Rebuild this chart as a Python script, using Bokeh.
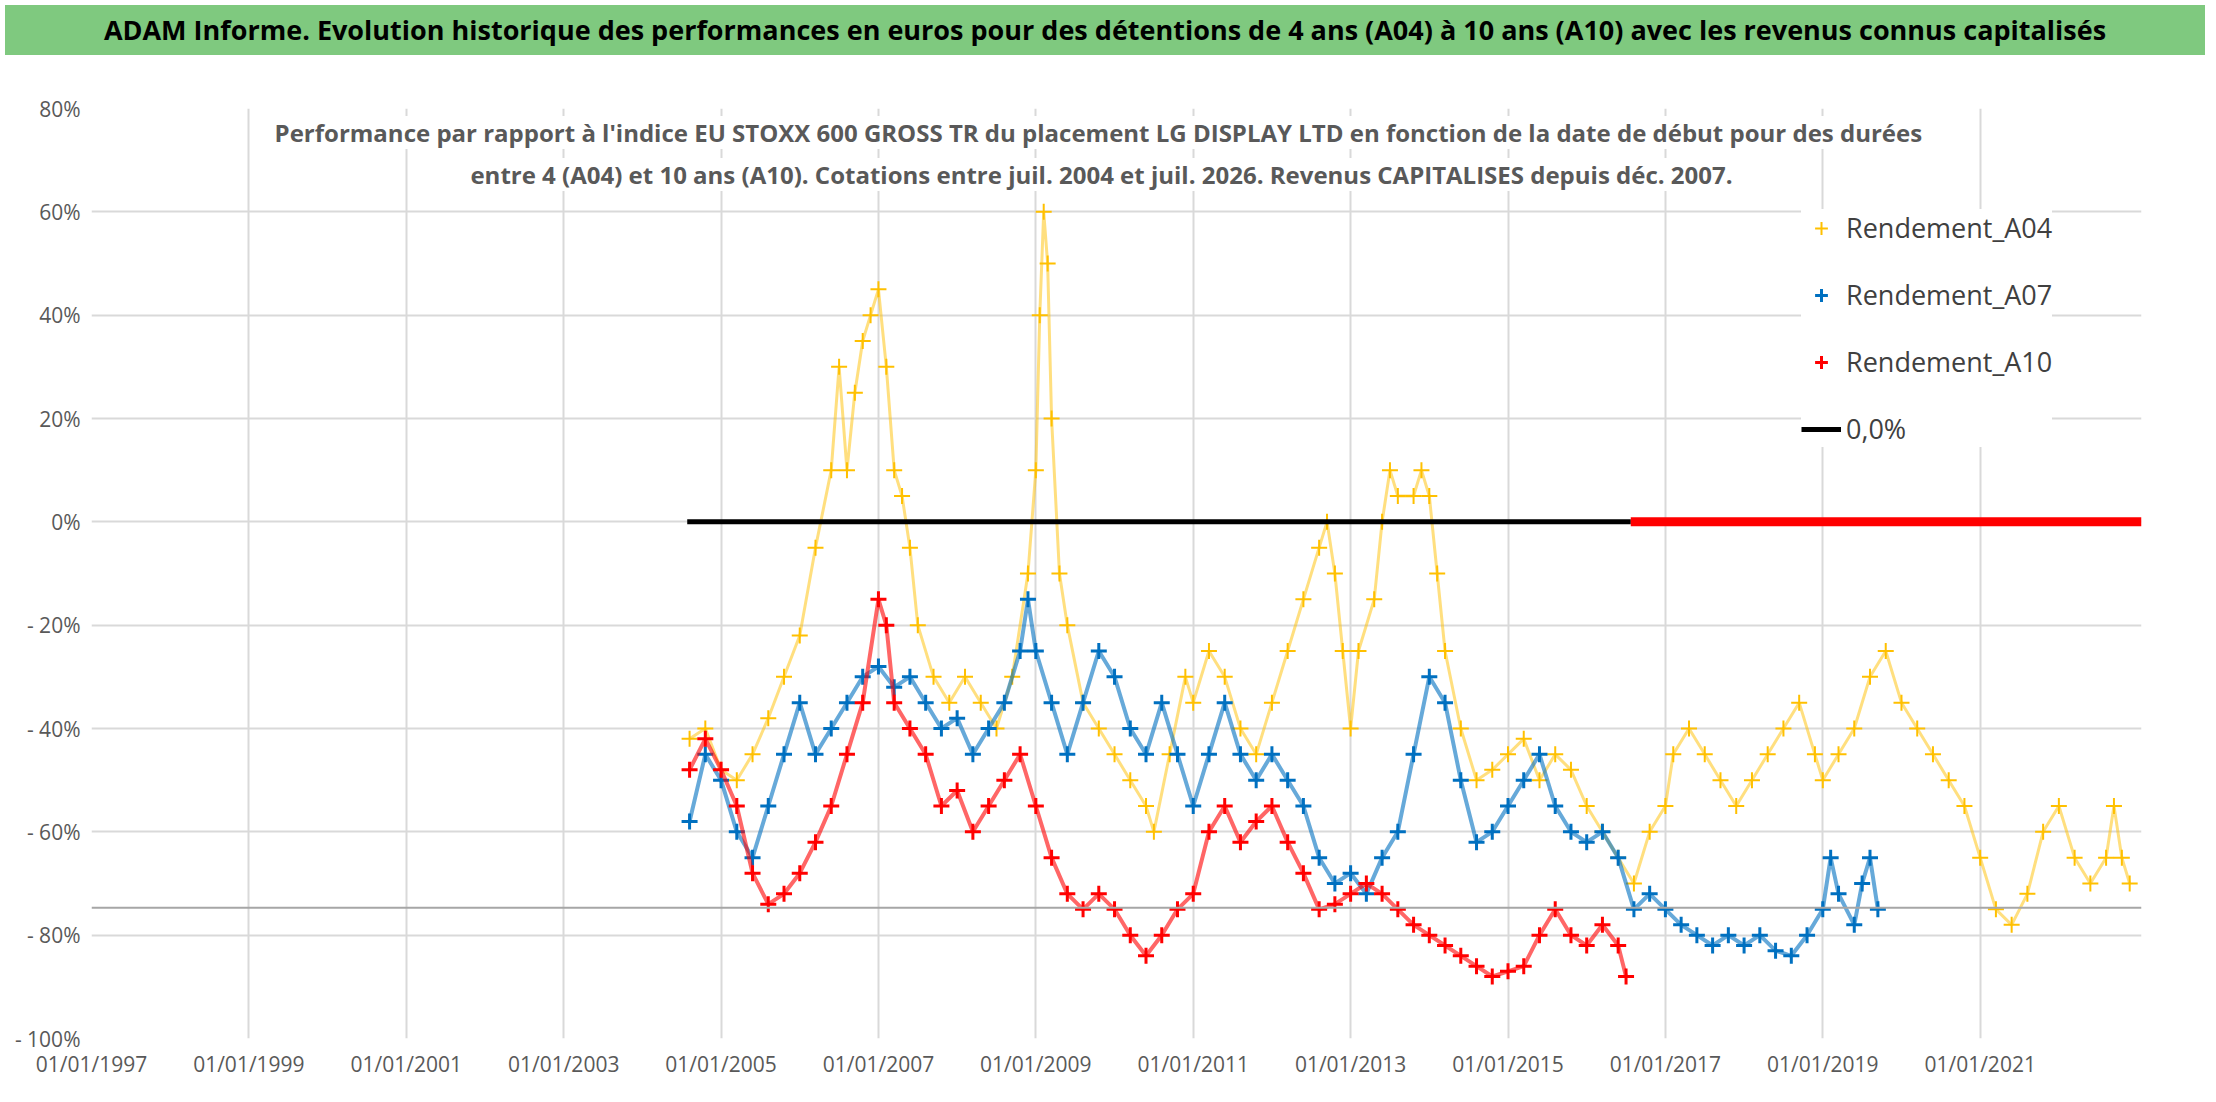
from bokeh.plotting import figure
from bokeh.models import Div, Label, Legend, LegendItem, Span, FixedTicker, Range1d
from bokeh.layouts import column
from bokeh.embed import file_html
from bokeh.resources import INLINE

a04_x = [2004.6,2004.8,2005.0,2005.2,2005.4,2005.6,2005.8,2006.0,2006.2,2006.4,2006.5,2006.6,2006.7,2006.8,2006.9,2007.0,2007.1,2007.2,2007.3,2007.4,2007.5,2007.7,2007.9,2008.1,2008.3,2008.5,2008.7,2008.9,2009.0,2009.05,2009.1,2009.15,2009.2,2009.3,2009.4,2009.6,2009.8,2010.0,2010.2,2010.4,2010.5,2010.7,2010.9,2011.0,2011.2,2011.4,2011.6,2011.8,2012.0,2012.2,2012.4,2012.6,2012.7,2012.8,2012.9,2013.0,2013.1,2013.3,2013.4,2013.5,2013.6,2013.8,2013.9,2014.0,2014.1,2014.2,2014.4,2014.6,2014.8,2015.0,2015.2,2015.4,2015.6,2015.8,2016.0,2016.2,2016.4,2016.6,2016.8,2017.0,2017.1,2017.3,2017.5,2017.7,2017.9,2018.1,2018.3,2018.5,2018.7,2018.9,2019.0,2019.2,2019.4,2019.6,2019.8,2020.0,2020.2,2020.4,2020.6,2020.8,2021.0,2021.2,2021.4,2021.6,2021.8,2022.0,2022.2,2022.4,2022.6,2022.7,2022.8,2022.9]
a04_y = [-42,-40,-48,-50,-45,-38,-30,-22,-5,10,30,10,25,35,40,45,30,10,5,-5,-20,-30,-35,-30,-35,-40,-30,-10,10,40,60,50,20,-10,-20,-35,-40,-45,-50,-55,-60,-45,-30,-35,-25,-30,-40,-45,-35,-25,-15,-5,0,-10,-25,-40,-25,-15,0,10,5,5,10,5,-10,-25,-40,-50,-48,-45,-42,-50,-45,-48,-55,-60,-65,-70,-60,-55,-45,-40,-45,-50,-55,-50,-45,-40,-35,-45,-50,-45,-40,-30,-25,-35,-40,-45,-50,-55,-65,-75,-78,-72,-60,-55,-65,-70,-65,-55,-65,-70]
a07_x = [2004.6,2004.8,2005.0,2005.2,2005.4,2005.6,2005.8,2006.0,2006.2,2006.4,2006.6,2006.8,2007.0,2007.2,2007.4,2007.6,2007.8,2008.0,2008.2,2008.4,2008.6,2008.8,2008.9,2009.0,2009.2,2009.4,2009.6,2009.8,2010.0,2010.2,2010.4,2010.6,2010.8,2011.0,2011.2,2011.4,2011.6,2011.8,2012.0,2012.2,2012.4,2012.6,2012.8,2013.0,2013.2,2013.4,2013.6,2013.8,2014.0,2014.2,2014.4,2014.6,2014.8,2015.0,2015.2,2015.4,2015.6,2015.8,2016.0,2016.2,2016.4,2016.6,2016.8,2017.0,2017.2,2017.4,2017.6,2017.8,2018.0,2018.2,2018.4,2018.6,2018.8,2019.0,2019.1,2019.2,2019.4,2019.5,2019.6,2019.7]
a07_y = [-58,-45,-50,-60,-65,-55,-45,-35,-45,-40,-35,-30,-28,-32,-30,-35,-40,-38,-45,-40,-35,-25,-15,-25,-35,-45,-35,-25,-30,-40,-45,-35,-45,-55,-45,-35,-45,-50,-45,-50,-55,-65,-70,-68,-72,-65,-60,-45,-30,-35,-50,-62,-60,-55,-50,-45,-55,-60,-62,-60,-65,-75,-72,-75,-78,-80,-82,-80,-82,-80,-83,-84,-80,-75,-65,-72,-78,-70,-65,-75]
a10_x = [2004.6,2004.8,2005.0,2005.2,2005.4,2005.6,2005.8,2006.0,2006.2,2006.4,2006.6,2006.8,2007.0,2007.1,2007.2,2007.4,2007.6,2007.8,2008.0,2008.2,2008.4,2008.6,2008.8,2009.0,2009.2,2009.4,2009.6,2009.8,2010.0,2010.2,2010.4,2010.6,2010.8,2011.0,2011.2,2011.4,2011.6,2011.8,2012.0,2012.2,2012.4,2012.6,2012.8,2013.0,2013.2,2013.4,2013.6,2013.8,2014.0,2014.2,2014.4,2014.6,2014.8,2015.0,2015.2,2015.4,2015.6,2015.8,2016.0,2016.2,2016.4,2016.5]
a10_y = [-48,-42,-48,-55,-68,-74,-72,-68,-62,-55,-45,-35,-15,-20,-35,-40,-45,-55,-52,-60,-55,-50,-45,-55,-65,-72,-75,-72,-75,-80,-84,-80,-75,-72,-60,-55,-62,-58,-55,-62,-68,-75,-74,-72,-70,-72,-75,-78,-80,-82,-84,-86,-88,-87,-86,-80,-75,-80,-82,-78,-82,-88]
zero_black_x = [2004.57, 2016.56]
zero_red_x = [2016.56, 2023.05]
ref_level = -74.7
x_ticks = [1997,1999,2001,2003,2005,2007,2009,2011,2013,2015,2017,2019,2021]
y_ticks = [80,60,40,20,0,-20,-40,-60,-80,-100]

FONT = "Open Sans"
header = Div(text="ADAM Informe. Evolution historique des performances en euros pour des détentions de 4 ans (A04) à 10 ans (A10) avec les revenus connus capitalisés",
             width=2200, height=50,
             styles={"background-color": "#7fc97f", "font-family": FONT, "font-weight": "bold",
                     "font-size": "27px", "color": "#000", "text-align": "center", "line-height": "50px",
                     "width": "2200px", "white-space": "nowrap", "overflow": "hidden"})

p = figure(width=2200, height=1028, output_backend="svg", toolbar_location=None,
           x_range=Range1d(1997, 2023.05), y_range=Range1d(-100, 80),
           min_border_top=48, min_border_left=91, min_border_right=59, min_border_bottom=50,
           outline_line_color=None)
p.xaxis.ticker = FixedTicker(ticks=x_ticks)
p.xaxis.major_label_overrides = {t: f"01/01/{t}" for t in x_ticks}
p.yaxis.ticker = FixedTicker(ticks=y_ticks)
p.yaxis.major_label_overrides = {t: (f"{t}%" if t >= 0 else f"- {-t}%") for t in y_ticks}
for ax in (p.xaxis, p.yaxis):
    ax.major_label_text_font = FONT
    ax.major_label_text_font_size = "21px"
    ax.major_label_text_color = "#595959"
    ax.axis_line_color = None
    ax.major_tick_line_color = None
    ax.minor_tick_line_color = None
p.xgrid.grid_line_color = "#d9d9d9"
p.ygrid.grid_line_color = "#d9d9d9"
p.xgrid.grid_line_width = 2
p.ygrid.grid_line_width = 2
p.add_layout(Span(location=ref_level, dimension="width", line_color="#a6a6a6", line_width=2))

r04 = p.scatter(a04_x, a04_y, marker="cross", size=16, line_width=2, color="#FFC000")
p.line(a04_x, a04_y, line_width=3, color="#FFC000", alpha=0.5)
r07 = p.scatter(a07_x, a07_y, marker="cross", size=16, line_width=3, color="#0070C0")
p.line(a07_x, a07_y, line_width=4, color="#0070C0", alpha=0.6)
r10 = p.scatter(a10_x, a10_y, marker="cross", size=16, line_width=3, color="#FF0000")
p.line(a10_x, a10_y, line_width=4, color="#FF0000", alpha=0.6)
rz = p.line(zero_black_x, [0, 0], line_width=5, color="black")
p.line(zero_red_x, [0, 0], line_width=9, color="#FF0000")

legend = Legend(items=[LegendItem(label="Rendement_A04", renderers=[r04]),
                       LegendItem(label="Rendement_A07", renderers=[r07]),
                       LegendItem(label="Rendement_A10", renderers=[r10]),
                       LegendItem(label="0,0%", renderers=[rz])],
                location=(1710, 591), label_text_font=FONT, label_text_font_size="27px",
                label_text_color="#404040", border_line_color=None, background_fill_color="white",
                background_fill_alpha=1, glyph_height=32, glyph_width=40, label_height=32,
                spacing=30, padding=18)
p.add_layout(legend, "center")

for yy, txt in [(906, "Performance par rapport à l'indice EU STOXX 600 GROSS TR  du placement LG DISPLAY LTD en fonction de la date de début pour des durées"),
                (864, "entre 4 (A04) et 10 ans (A10). Cotations entre juil. 2004 et juil. 2026. Revenus CAPITALISES depuis déc. 2007.")]:
    p.add_layout(Label(x=1010, y=yy, x_units="screen", y_units="screen", text_align="center",
                       text_baseline="middle", background_fill_color="white", text=txt,
                       text_font=FONT, text_font_size="24px", text_font_style="bold", text_color="#595959"))

layout = column(header, p, spacing=0)
open("out.html", "w").write(file_html(layout, INLINE))
